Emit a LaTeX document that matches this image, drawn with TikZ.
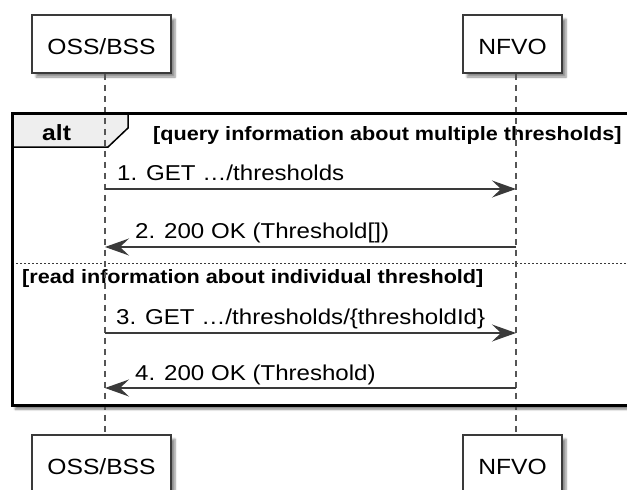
\documentclass[tikz,border=0pt]{standalone}
\usepackage{fontspec}
\setmainfont{Liberation Sans}[FakeStretch=1.12]
\usetikzlibrary{arrows.meta,shadows.blur}
\definecolor{linegray}{HTML}{3A3A3A}
\definecolor{lifegray}{HTML}{555555}
\definecolor{tabgray}{HTML}{EEEEEE}
\begin{document}
\begin{tikzpicture}[x=1pt,y=-1pt,
  part/.style={draw=linegray, line width=1.5pt, fill=white,
    minimum width=139pt, minimum height=58pt, inner sep=0pt,
    text height=21pt, text depth=0pt,
    font=\fontsize{22}{26}\selectfont,
    blur shadow={shadow xshift=4pt, shadow yshift=-4pt, shadow blur steps=6, shadow opacity=45}},
  nfvopart/.style={part, minimum width=99pt},
  frameback/.style={fill=white, draw=none, inner sep=0pt, minimum width=620pt, minimum height=292pt,
    blur shadow={shadow xshift=3pt, shadow yshift=-4pt, shadow blur steps=6, shadow opacity=50}},
  frameline/.style={draw=black, line width=3pt},
  tabshape/.style={fill=tabgray, draw=black, line width=1.5pt},
  life/.style={draw=lifegray, line width=1.2pt, dash pattern=on 6pt off 5pt},
  sepline/.style={draw=linegray, line width=1pt, dash pattern=on 2pt off 2pt},
  msg/.style={draw=linegray, line width=1.6pt, -{Stealth[length=24pt, width=17pt, inset=9pt]}},
  lbl/.style={inner sep=0pt, anchor=base west, font=\fontsize{21.5}{25}\selectfont},
  guard/.style={inner sep=0pt, anchor=base west, font=\fontsize{19.3}{23}\bfseries\selectfont},
  altlbl/.style={inner sep=0pt, anchor=base west, font=\fontsize{22}{26}\bfseries\selectfont}
]
\useasboundingbox (0,0) rectangle (627,490);

% alt frame (background with shadow)
\node[frameback, anchor=north west] (frm) at (12,113) {};
\draw[tabshape] (12,113) -- (128,113) -- (128,128) -- (108,147) -- (12,147) -- cycle;
\node[altlbl] (alt) at (42,140) {alt};
\coordinate (sepL) at (12,263);
\coordinate (sepR) at (632,263);
\draw[sepline] (sepL) -- (sepR);
\node[guard] (g1) at (153,140) {[query information about multiple thresholds]};
\node[guard] (g2) at (22,283) {[read information about individual threshold]};

% participants
\node[part] (ossT) at (101.5,44) {OSS/BSS};
\node[nfvopart] (nfvoT) at (512.5,44) {NFVO};
\node[part] (ossB) at (101.5,464) {OSS/BSS};
\node[nfvopart] (nfvoB) at (512.5,464) {NFVO};

% lifelines
\coordinate (ossX) at (105,0);
\coordinate (nfvoX) at (516,0);
\draw[life] (ossT.south -| ossX) -- (ossB.north -| ossX);
\draw[life] (nfvoT.south -| nfvoX) -- (nfvoB.north -| nfvoX);

% frame border on top
\draw[frameline] (frm.north west) rectangle (frm.south east);

% messages
\coordinate (m1a) at (105,189); \coordinate (m1b) at (516,189);
\draw[msg] (m1a) -- (m1b);
\node[lbl] (l1) at (117,180) {1. GET …/thresholds};

\coordinate (m2a) at (516,247); \coordinate (m2b) at (105,247);
\draw[msg] (m2a) -- (m2b);
\node[lbl] (l2) at (135,238) {2. 200 OK (Threshold[])};

\coordinate (m3a) at (105,333); \coordinate (m3b) at (516,333);
\draw[msg] (m3a) -- (m3b);
\node[lbl] (l3) at (116,324) {3. GET …/thresholds/\{thresholdId\}};

\coordinate (m4a) at (516,388); \coordinate (m4b) at (105,388);
\draw[msg] (m4a) -- (m4b);
\node[lbl] (l4) at (135,380) {4. 200 OK (Threshold)};
\end{tikzpicture}
\end{document}
